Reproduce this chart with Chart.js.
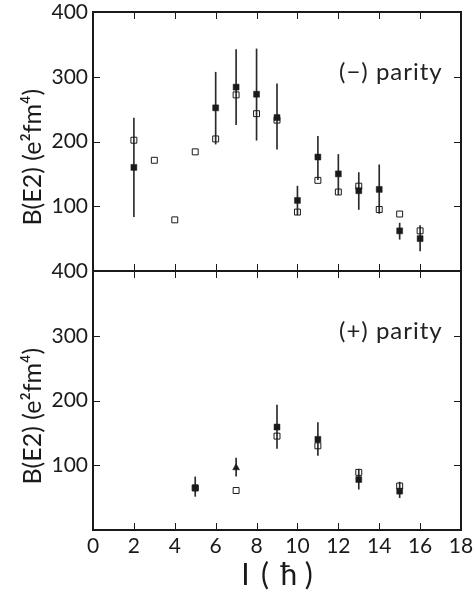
<!DOCTYPE html>
<html>
<head>
<meta charset="utf-8">
<script src="https://cdn.jsdelivr.net/npm/chart.js@4/dist/chart.umd.min.js"></script>
<style>
  html, body { margin:0; padding:0; background:#fff; }
  #wrap { position:relative; width:474px; height:593px; overflow:hidden; }
  canvas { position:absolute; left:0; }
  #cTop { top:0; }
  #cBot { top:250px; }
  .parity { position:absolute; font-family:Lato, sans-serif; font-size:24px; letter-spacing:1px; color:#222; white-space:nowrap; }
</style>
</head>
<body>
<div id="wrap">
  <canvas id="cTop" width="474" height="285"></canvas>
  <canvas id="cBot" width="474" height="343"></canvas>
  <div class="parity" style="left:339px; top:56px;">(−) parity</div>
  <div class="parity" style="left:339px; top:315px;">(+) parity</div>
</div>
<script>
/* ── (−) parity data ─────────────────────────────── */
const negSpinTh  = [2,3,4,5,6,7,8,9,10,11,12,13,14,15,16];
const negBE2Th   = [202,171,79,184,204,272,243,233,91,140,122,131,95,88,62];
const negSpinExp = [2,6,7,8,9,10,11,12,13,14,15,16];
const negBE2Exp  = [160,252,284,273,237,109,176,150,124,126,62,50];
const negErrLo   = [84,196,226,202,188,87,141,118,95,89,49,31];
const negErrHi   = [236,307,342,343,289,131,208,180,152,164,74,70];

/* ── (+) parity data ─────────────────────────────── */
const posSpinTh  = [5,7,9,11,13,15];
const posBE2Th   = [65,61,145,130,89,68];
const posSpinExp = [5,9,11,13,15];
const posBE2Exp  = [65,159,140,78,60];
const posErrLo   = [52,126,115,63,50];
const posErrHi   = [82,193,166,94,74];
const posSpinTri = [7];
const posBE2Tri  = [96];
const posTriLo   = [83];
const posTriHi   = [111];

const xTicks = [0,2,4,6,8,10,12,14,16,18];
const yTicks = [0,100,200,300,400];
const yTitle = 'B(E2) (e\u00b2fm\u2074)';
const xTitle = 'I \u2009( \u2009\u0127 )';

const INK = '#1a1a1a';
const TICK_FONT = { family:'Lato, sans-serif', size:21 };

const pts = (xs, ys) => xs.map((x,i) => ({ x, y: ys[i] }));
const bars = (xs, lo, hi) => xs.map((x,i) => ({ x, y: [lo[i], hi[i]] }));

/* short tick marks pointing into the frame on all four sides */
const inwardTicks = {
  id:'inwardTicks',
  afterDraw(chart) {
    const { ctx, chartArea:a, scales } = chart;
    const len = 7;
    ctx.save();
    ctx.strokeStyle = INK;
    ctx.lineWidth = 1;
    ctx.beginPath();
    [['x', a.bottom, -1], ['xTop', a.top, 1]].forEach(([id, edge, dir]) => {
      const s = scales[id];
      s.ticks.forEach(t => {
        const px = Math.round(s.getPixelForValue(t.value)) + 0.5;
        ctx.moveTo(px, edge); ctx.lineTo(px, edge + dir*len);
      });
    });
    [['y', a.left, 1], ['yR', a.right, -1]].forEach(([id, edge, dir]) => {
      const s = scales[id];
      s.ticks.forEach(t => {
        const py = Math.round(s.getPixelForValue(t.value)) + 0.5;
        ctx.moveTo(edge, py); ctx.lineTo(edge + dir*len, py);
      });
    });
    ctx.stroke();
    ctx.restore();
  }
};

function panel(canvasId, d, isBottom) {
  const datasets = [
    { type:'bar', data: bars(d.errX, d.errLo, d.errHi), backgroundColor:'#2a2a2a',
      barThickness:1, grouped:false, order:3 },
    { type:'scatter', data: pts(d.thX, d.thY), pointStyle:'rect', pointRadius:4.2,
      backgroundColor:'rgba(0,0,0,0)', borderColor:INK, borderWidth:1, order:2 },
    { type:'scatter', data: pts(d.expX, d.expY), pointStyle:'rect', pointRadius:4.2,
      backgroundColor:INK, borderColor:INK, borderWidth:0.5, order:1 }
  ];
  if (d.triX) {
    datasets.push({ type:'scatter', data: pts(d.triX, d.triY), pointStyle:'triangle', pointRadius:4,
      backgroundColor:INK, borderColor:INK, borderWidth:0.5, order:1 });
  }

  const edge = (pos, extra) => Object.assign({
    type:'linear', position:pos, offset:false,
    grid:{ drawOnChartArea:false, drawTicks:false, offset:false },
    border:{ color:INK, width:2 }
  }, extra);

  const noPad = s => { s.paddingTop = 0; s.paddingBottom = 0; s.paddingLeft = 0; s.paddingRight = 0; };

  return new Chart(document.getElementById(canvasId), {
    type:'scatter',
    data:{ datasets },
    options:{
      responsive:false,
      animation:false,
      devicePixelRatio:1,
      layout:{ padding: isBottom ? { top:21, right:13, bottom:0, left:0 }
                                 : { top:12, right:13, bottom:14, left:0 } },
      plugins:{ legend:{display:false}, tooltip:{enabled:false} },
      scales:{
        x: edge('bottom', {
          min:0, max:18,
          afterBuildTicks: s => { s.ticks = xTicks.map(v => ({ value:v })); },
          ticks:{ display:isBottom, color:INK, font:TICK_FONT, padding:4, maxRotation:0,
                  callback: v => v },
          title:{ display:isBottom, text:xTitle, color:INK, align:'center',
                  font:{ family:'Lato, sans-serif', size:30 }, padding:{top:0,bottom:0} },
          afterFit: s => { s.height = isBottom ? 63 : 0; noPad(s); }
        }),
        xTop: edge('top', {
          min:0, max:18,
          afterBuildTicks: s => { s.ticks = xTicks.map(v => ({ value:v })); },
          ticks:{ display:false },
          afterFit: s => { s.height = 0; noPad(s); }
        }),
        y: edge('left', {
          min:0, max:400,
          afterBuildTicks: s => { s.ticks = yTicks.map(v => ({ value:v })); },
          ticks:{ color:INK, font:TICK_FONT, padding:5, callback: v => v === 0 ? '' : v },
          title:{ display:true, text: yTitle + '\u2002\u2002 ', color:INK,
                  font:{ family:'Lato, sans-serif', size:25 }, padding:{top:18,bottom:0} },
          afterFit: s => { s.width = 93; noPad(s); }
        }),
        yR: edge('right', {
          min:0, max:400,
          afterBuildTicks: s => { s.ticks = yTicks.map(v => ({ value:v })); },
          ticks:{ display:false },
          afterFit: s => { s.width = 0; noPad(s); }
        })
      }
    },
    plugins:[inwardTicks]
  });
}

panel('cTop', {
  thX:negSpinTh, thY:negBE2Th,
  expX:negSpinExp, expY:negBE2Exp,
  errX:negSpinExp, errLo:negErrLo, errHi:negErrHi
}, false);

panel('cBot', {
  thX:posSpinTh, thY:posBE2Th,
  expX:posSpinExp, expY:posBE2Exp,
  triX:posSpinTri, triY:posBE2Tri,
  errX:posSpinExp.concat(posSpinTri),
  errLo:posErrLo.concat(posTriLo),
  errHi:posErrHi.concat(posTriHi)
}, true);
</script>
</body>
</html>
